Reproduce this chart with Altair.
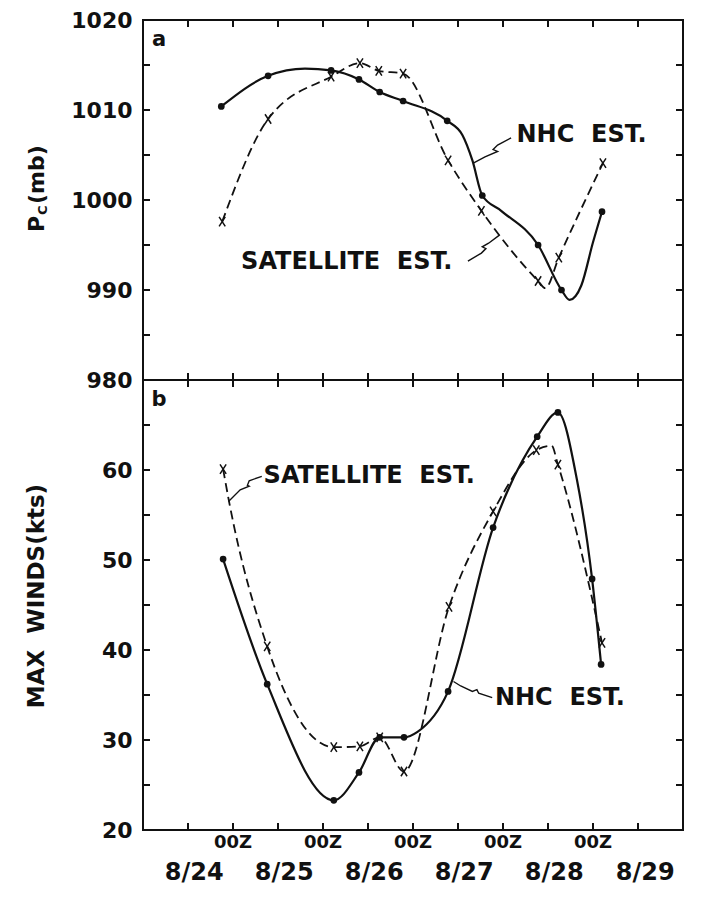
import altair as alt
import pandas as pd

FONT = "DejaVu Sans"
INK = "#111111"
SP = "\u00a0\u00a0"

# ---------------- data ----------------
# panel a: central pressure (mb); x = day of August (00Z = integer)
nhc_p_day = [24.87, 25.39, 26.09, 26.40, 26.63, 26.89, 27.38, 27.77, 28.39, 28.65, 29.10]
nhc_p_val = [1010.4, 1013.8, 1014.4, 1013.4, 1012.0, 1011.0, 1008.8, 1000.5, 995.0, 990.0, 998.7]
# extra points (no marker)
nhc_p_curve_day = [25.80, 27.55, 27.66, 27.98, 28.74, 28.87, 29.00]
nhc_p_curve_val = [1014.6, 1007.2, 1004.4, 998.8, 988.9, 990.5, 995.3]

sat_p_day = [24.88, 25.39, 26.09, 26.41, 26.62, 26.89, 27.39, 27.76, 28.39, 28.62, 29.11]
sat_p_val = [997.6, 1009.0, 1013.7, 1015.2, 1014.35, 1014.05, 1004.4, 998.8, 991.0, 993.6, 1004.1]
sat_p_curve_day = [28.47]
sat_p_curve_val = [990.2]

# panel b: max winds (kts)
nhc_w_day = [24.89, 25.38, 26.12, 26.40, 26.63, 26.90, 27.39, 27.89, 28.38, 28.61, 28.99, 29.09]
nhc_w_val = [50.1, 36.2, 23.3, 26.4, 30.3, 30.3, 35.4, 53.6, 63.7, 66.4, 47.9, 38.4]
nhc_w_curve_day = [27.05, 28.82]
nhc_w_curve_val = [30.9, 59.0]

sat_w_day = [24.89, 25.38, 26.12, 26.41, 26.63, 26.90, 27.40, 27.89, 28.37, 28.61, 29.10]
sat_w_val = [60.1, 40.4, 29.2, 29.3, 30.3, 26.5, 44.8, 55.4, 62.2, 60.6, 40.8]
sat_w_curve_day = [24.96, 28.54]
sat_w_curve_val = [56.3, 62.7]

# annotation labels
ann_text = ["NHC" + SP + "EST.", "SATELLITE" + SP + "EST."]
ann_p_day = [28.15, 25.09]
ann_p_val = [1007.2, 993.1]
ann_w_day = [27.91, 25.34]
ann_w_val = [34.7, 59.3]

# squiggly leader lines
lead_p_nhc_day = [28.09, 27.94, 27.89, 27.94, 27.80, 27.67]
lead_p_nhc_val = [1006.9, 1006.1, 1005.6, 1005.4, 1004.8, 1004.1]
lead_p_sat_day = [27.61, 27.76, 27.81, 27.77, 27.84, 27.96]
lead_p_sat_val = [993.2, 994.1, 994.6, 994.8, 995.2, 996.1]
lead_w_sat_day = [25.32, 25.18, 25.16, 25.18, 25.08, 24.95]
lead_w_sat_val = [59.3, 58.8, 58.3, 58.2, 57.8, 56.5]
lead_w_nhc_day = [27.88, 27.73, 27.71, 27.66, 27.53, 27.45]
lead_w_nhc_val = [34.7, 35.2, 35.6, 35.4, 36.0, 36.5]

# axes
p_labels = [980, 990, 1000, 1010, 1020]
w_labels = [20, 30, 40, 50, 60]
p_minor = [985, 990, 995, 1000, 1005, 1010, 1015]
w_minor = [25, 30, 35, 40, 45, 50, 55, 60, 65]
x_minor = [24.5, 25.0, 25.5, 26.0, 26.5, 27.0, 27.5, 28.0, 28.5, 29.0, 29.5]
z_days = [25, 26, 27, 28, 29]
z_text = ["00Z", "00Z", "00Z", "00Z", "00Z"]
date_days = [24.57, 25.57, 26.57, 27.57, 28.57, 29.58]
date_text = ["8/24", "8/25", "8/26", "8/27", "8/28", "8/29"]

W = 540
H_TOP = 360
H_BOT = 450
TICK = 7

X_PATH = "M-0.65,-1L0.65,1M-0.65,1L0.65,-1"

xscale = alt.Scale(domain=[24, 30], nice=False, zero=False)


def series_df(d, v):
    return pd.DataFrame({"day": d, "val": v})


def leader_df(parts):
    rows = []
    for i, (d, v) in enumerate(parts):
        for k, (dd, vv) in enumerate(zip(d, v)):
            rows.append({"id": i, "k": k, "day": dd, "val": vv})
    return pd.DataFrame(rows)


def panel(h, ydom, ylabels, yminor, nhc, nhc_curve, sat, sat_curve, ann, leads, letter, bottom):
    yscale = alt.Scale(domain=ydom, nice=False, zero=False)
    yaxis = alt.Axis(values=ylabels, title=None, domain=False, ticks=False, grid=False,
                     format="d",
                     labelFont=FONT, labelFontSize=22, labelFontWeight="bold",
                     labelColor=INK, labelPadding=11, labelFlush=False, labelOverlap=False)
    X = alt.X("day:Q", scale=xscale, axis=None)
    Y = alt.Y("val:Q", scale=yscale, axis=yaxis)

    nhc_line = pd.concat([nhc, nhc_curve]).sort_values("day")
    sat_line = pd.concat([sat, sat_curve]).sort_values("day")

    layers = []
    layers.append(alt.Chart(sat_line).mark_line(interpolate="monotone", color=INK,
                                                strokeWidth=1.8, strokeDash=[9, 5]).encode(x=X, y=Y))
    layers.append(alt.Chart(nhc_line).mark_line(interpolate="monotone", color=INK,
                                                strokeWidth=2.2).encode(x=X, y=Y))
    layers.append(alt.Chart(sat).mark_point(shape=X_PATH, filled=False, size=90, color=INK,
                                            strokeWidth=1.5, opacity=1).encode(x=X, y=Y))
    layers.append(alt.Chart(nhc).mark_circle(size=45, color=INK, opacity=1).encode(x=X, y=Y))
    layers.append(alt.Chart(leads).mark_line(color=INK, strokeWidth=1.4).encode(
        x=X, y=Y, detail="id:N", order="k:Q"))
    layers.append(alt.Chart(ann).mark_text(align="left", baseline="middle", font=FONT,
                                           fontSize=24, fontWeight="bold", color=INK).encode(
        x=X, y=Y, text="label:N"))

    ytick = pd.DataFrame({"val": yminor})
    layers.append(alt.Chart(ytick).mark_rule(color=INK, strokeWidth=2).encode(
        y=Y, x=alt.value(0), x2=alt.value(TICK)))
    layers.append(alt.Chart(ytick).mark_rule(color=INK, strokeWidth=2).encode(
        y=Y, x=alt.value(W - TICK), x2=alt.value(W)))
    xtick = pd.DataFrame({"day": x_minor})
    layers.append(alt.Chart(xtick).mark_rule(color=INK, strokeWidth=2).encode(
        x=X, y=alt.value(0), y2=alt.value(TICK)))
    layers.append(alt.Chart(xtick).mark_rule(color=INK, strokeWidth=2).encode(
        x=X, y=alt.value(h - TICK), y2=alt.value(h)))

    layers.append(alt.Chart(pd.DataFrame({"t": [letter]})).mark_text(
        align="center", baseline="middle", font=FONT, fontSize=21, fontWeight="bold",
        color=INK).encode(x=alt.value(16), y=alt.value(20), text="t:N"))

    if not bottom:
        layers.append(alt.Chart(pd.DataFrame({"t": ["P"]})).mark_text(
            align="left", baseline="middle", angle=270, font=FONT, fontSize=22,
            fontWeight="bold", color=INK).encode(x=alt.value(-106), y=alt.value(212), text="t:N"))
        layers.append(alt.Chart(pd.DataFrame({"t": ["C"]})).mark_text(
            align="left", baseline="middle", angle=270, font=FONT, fontSize=13,
            fontWeight="bold", color=INK).encode(x=alt.value(-100), y=alt.value(195), text="t:N"))
        layers.append(alt.Chart(pd.DataFrame({"t": ["(mb)"]})).mark_text(
            align="left", baseline="middle", angle=270, font=FONT, fontSize=22,
            fontWeight="bold", color=INK).encode(x=alt.value(-106), y=alt.value(184), text="t:N"))
    else:
        layers.append(alt.Chart(pd.DataFrame({"t": ["MAX" + SP + "WINDS(kts)"]})).mark_text(
            align="center", baseline="middle", angle=270, font=FONT, fontSize=23,
            fontWeight="bold", color=INK).encode(x=alt.value(-106), y=alt.value(216), text="t:N"))
        zdf = pd.DataFrame({"day": z_days, "label": z_text})
        layers.append(alt.Chart(zdf).mark_text(baseline="middle", font=FONT, fontSize=18,
                                               fontWeight="bold", color=INK).encode(
            x=X, y=alt.value(h + 13), text="label:N"))
        ddf = pd.DataFrame({"day": date_days, "label": date_text})
        layers.append(alt.Chart(ddf).mark_text(baseline="middle", font=FONT, fontSize=24,
                                               fontWeight="bold", color=INK).encode(
            x=X, y=alt.value(h + 43), text="label:N"))

    return alt.layer(*layers).properties(width=W, height=h)


top = panel(
    H_TOP, [980, 1020], p_labels, p_minor,
    series_df(nhc_p_day, nhc_p_val), series_df(nhc_p_curve_day, nhc_p_curve_val),
    series_df(sat_p_day, sat_p_val), series_df(sat_p_curve_day, sat_p_curve_val),
    pd.DataFrame({"day": ann_p_day, "val": ann_p_val, "label": ann_text}),
    leader_df([(lead_p_nhc_day, lead_p_nhc_val), (lead_p_sat_day, lead_p_sat_val)]),
    "a", False)

bot = panel(
    H_BOT, [20, 70], w_labels, w_minor,
    series_df(nhc_w_day, nhc_w_val), series_df(nhc_w_curve_day, nhc_w_curve_val),
    series_df(sat_w_day, sat_w_val), series_df(sat_w_curve_day, sat_w_curve_val),
    pd.DataFrame({"day": ann_w_day, "val": ann_w_val, "label": ann_text}),
    leader_df([(lead_w_nhc_day, lead_w_nhc_val), (lead_w_sat_day, lead_w_sat_val)]),
    "b", True)

chart = alt.vconcat(top, bot, spacing=0, bounds="flush").properties(
    padding={"left": 17, "top": 0, "right": 5, "bottom": 2},
    background="white",
).configure_view(stroke=INK, strokeWidth=2)

chart.save("out.html", embed_options={"renderer": "svg", "actions": False})
